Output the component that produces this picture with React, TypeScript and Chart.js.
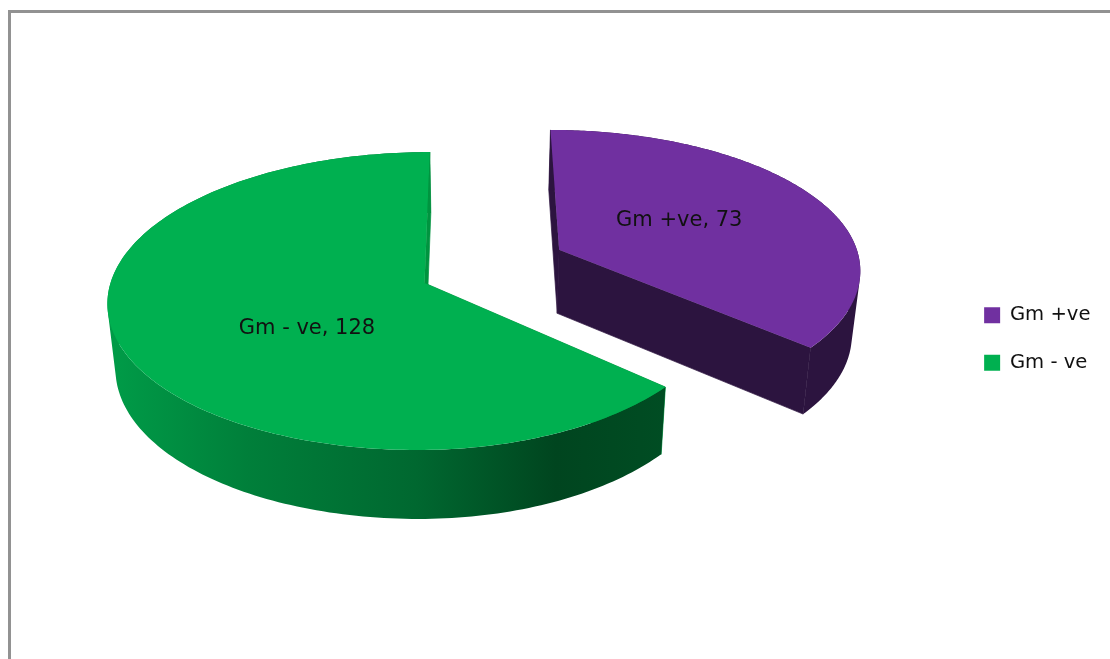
import React, { useEffect, useRef } from "react";
import { Chart, registerables } from "chart.js";

Chart.register(...registerables);

const categories = ["Gm +ve", "Gm - ve"];
const values = [73, 128];
const topColors = ["#7030A0", "#00B050"];
const wallColors = ["#2C143F", "#00943F"];

const EXPLODE = [0.4948, 0];
const EXPLODE_TILT = -0.061;
const RIGHT_SQUEEZE = [0.975, 0.949];
const BACK_SQUEEZE = [0.96, 1];
const LABEL_FRACTION = [0.43, 0.43];
const LABEL_NUDGE = [
  [5, -5],
  [9, 19],
];
const FONT = "'DejaVu Sans'";

// Perspective of the ground plane, in unit-radius pie coordinates
const VIEW = { x0: 474, baseX: -49.5, baseY: 283, rx: 314, ry: 146.8, p: 0.121, depth: 64.5, shrink: 0.978 };

function project(u: number, v: number) {
  const s = 1 / (1 - VIEW.p * v);
  return { x: VIEW.x0 + (VIEW.baseX + VIEW.rx * u) * s, y: VIEW.baseY + VIEW.ry * v * s, s };
}
function projectBottom(u: number, v: number) {
  const t = project(u, v);
  return {
    x: VIEW.x0 + (t.x - VIEW.x0) * VIEW.shrink,
    y: t.y + VIEW.depth * (0.5 + 0.5 * t.s),
  };
}

function rim(i: number, start: number, end: number, cu: number, cv: number) {
  const pts: [number, number][] = [];
  const n = 200;
  for (let k = 0; k <= n; k++) {
    const a = start + ((end - start) * k) / n;
    const c = Math.cos(a);
    const d = Math.sin(a);
    pts.push([cu + (c > 0 ? c * RIGHT_SQUEEZE[i] : c), cv + (d < 0 ? d * BACK_SQUEEZE[i] : d)]);
  }
  return pts;
}

function centre(i: number, mid: number): [number, number] {
  const d = mid + EXPLODE_TILT;
  return [EXPLODE[i] * Math.cos(d), EXPLODE[i] * Math.sin(d)];
}

type P = { x: number; y: number };
function addQuad(ctx: CanvasRenderingContext2D, q: P[]) {
  let area = 0;
  for (let k = 0; k < 4; k++) {
    const a = q[k];
    const b = q[(k + 1) % 4];
    area += a.x * b.y - b.x * a.y;
  }
  const o = area >= 0 ? q : [...q].reverse();
  ctx.moveTo(o[0].x, o[0].y);
  ctx.lineTo(o[1].x, o[1].y);
  ctx.lineTo(o[2].x, o[2].y);
  ctx.lineTo(o[3].x, o[3].y);
  ctx.closePath();
}

const pie3d = {
  id: "pie3d",
  beforeDatasetDraw(chart: any) {
    const ctx = chart.ctx as CanvasRenderingContext2D;
    const arcs = chart.getDatasetMeta(0).data;
    const greenSide = ctx.createLinearGradient(108, 0, 668, 0);
    greenSide.addColorStop(0, "#009C48");
    greenSide.addColorStop(0.25, "#007F3A");
    greenSide.addColorStop(0.55, "#006830");
    greenSide.addColorStop(0.8, "#00451F");
    greenSide.addColorStop(1, "#004D23");
    const sides: (string | CanvasGradient)[] = ["#2C143F", greenSide];

    [1, 0].forEach((i) => {
      const arc = arcs[i];
      const mid = (arc.startAngle + arc.endAngle) / 2;
      const [cu, cv] = centre(i, mid);
      const pts = rim(i, arc.startAngle, arc.endAngle, cu, cv);
      const first = pts[0];
      const last = pts[pts.length - 1];

      const wall = (e: [number, number]) => {
        ctx.fillStyle = wallColors[i];
        ctx.strokeStyle = wallColors[i];
        ctx.lineWidth = 0.7;
        ctx.beginPath();
        addQuad(ctx, [project(cu, cv), project(e[0], e[1]), projectBottom(e[0], e[1]), projectBottom(cu, cv)]);
        ctx.fill();
        ctx.stroke();
      };

      ctx.save();
      wall(first);
      // curved outer side: all quads in one path so that no seams appear
      ctx.fillStyle = sides[i];
      ctx.beginPath();
      for (let k = 0; k < pts.length - 1; k++) {
        const a = pts[k];
        const b = pts[k + 1];
        addQuad(ctx, [project(a[0], a[1]), project(b[0], b[1]), projectBottom(b[0], b[1]), projectBottom(a[0], a[1])]);
      }
      ctx.fill("nonzero");
      wall(last);
      // top face
      ctx.fillStyle = topColors[i];
      ctx.beginPath();
      const apex = project(cu, cv);
      ctx.moveTo(apex.x, apex.y);
      pts.forEach((p) => {
        const t = project(p[0], p[1]);
        ctx.lineTo(t.x, t.y);
      });
      ctx.closePath();
      ctx.fill();
      ctx.restore();
    });

    ctx.save();
    ctx.fillStyle = "#111111";
    ctx.font = `21px ${FONT}`;
    ctx.textAlign = "center";
    ctx.textBaseline = "middle";
    arcs.forEach((arc: any, i: number) => {
      const mid = (arc.startAngle + arc.endAngle) / 2;
      const [cu, cv] = centre(i, mid);
      const t = project(cu + LABEL_FRACTION[i] * Math.cos(mid), cv + LABEL_FRACTION[i] * Math.sin(mid));
      ctx.fillText(`${categories[i]}, ${values[i]}`, t.x + LABEL_NUDGE[i][0], t.y + LABEL_NUDGE[i][1]);
    });
    ctx.restore();
    return false;
  },
};

export default function App() {
  const ref = useRef<HTMLCanvasElement>(null);
  useEffect(() => {
    document.body.style.margin = "0";
    document.body.style.overflow = "hidden";
    const chart = new Chart(ref.current!, {
      type: "pie",
      data: {
        labels: categories,
        datasets: [{ data: values, backgroundColor: topColors, borderWidth: 0 }],
      },
      options: {
        responsive: false,
        animation: false,
        layout: { padding: { top: 19, right: 9.5 } },
        plugins: {
          tooltip: { enabled: false },
          legend: {
            position: "right",
            labels: {
              boxWidth: 16,
              boxHeight: 16,
              padding: 28,
              color: "#111111",
              font: { family: FONT, size: 19.6 },
            },
          },
        },
      },
      plugins: [pie3d],
    } as any);
    return () => chart.destroy();
  }, []);
  return (
    <div style={{ position: "relative", width: 1110, height: 659, background: "#fff", overflow: "hidden" }}>
      <canvas ref={ref} width={1110} height={659} style={{ display: "block" }} />
      <div
        style={{
          position: "absolute",
          left: 7.5,
          top: 9.5,
          right: -4,
          bottom: -4,
          borderLeft: "3px solid #929292",
          borderTop: "3px solid #929292",
          pointerEvents: "none",
        }}
      />
    </div>
  );
}
